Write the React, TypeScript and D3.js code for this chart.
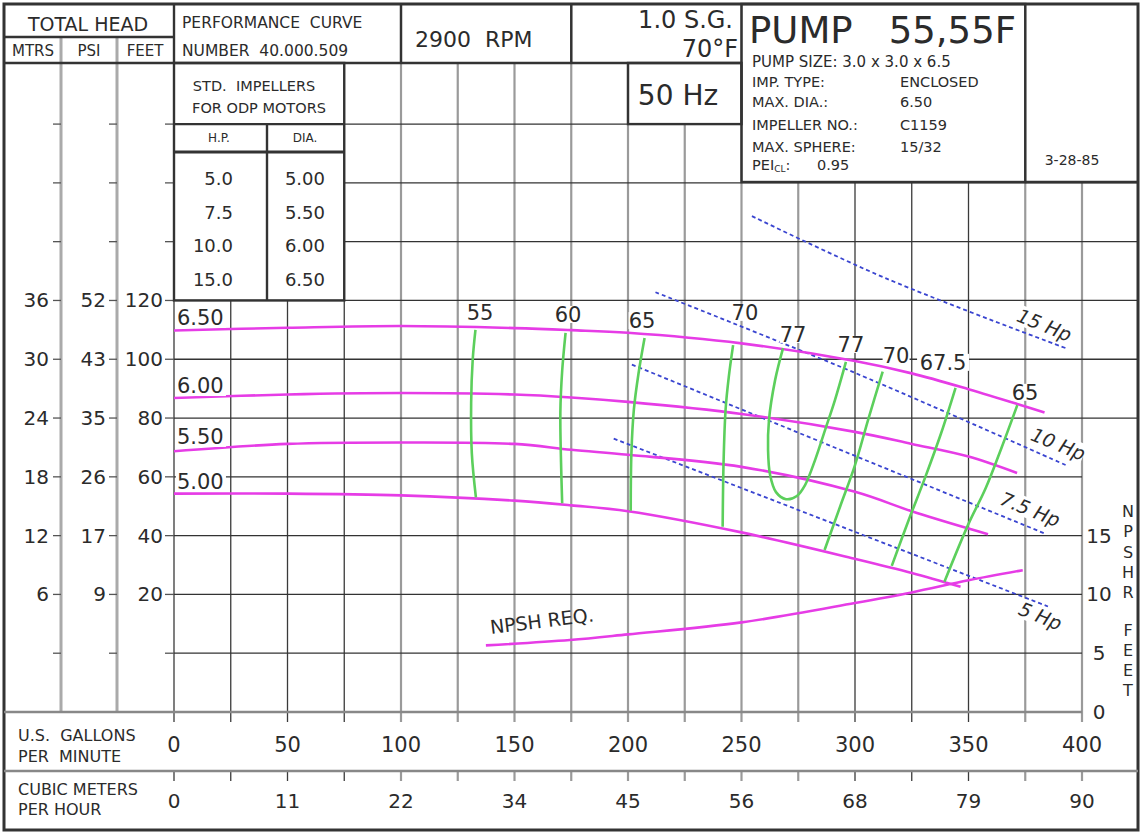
import React from 'react';
import * as d3 from 'd3';

// ---------------- DATA ----------------
const gridGpm = [0, 25, 50, 75, 100, 125, 150, 175, 200, 225, 250, 275, 300, 325, 350, 375, 400];
const gpmTicks = [0, 50, 100, 150, 200, 250, 300, 350, 400];
const cmhLabels = ['0', '11', '22', '34', '45', '56', '68', '79', '90'];
const gridHead = [180, 160, 140, 120, 100, 80, 60, 40, 20, 0];
const feetTicks = [120, 100, 80, 60, 40, 20];
const mtrsLabels = ['36', '30', '24', '18', '12', '6'];
const psiLabels = ['52', '43', '35', '26', '17', '9'];
const unlabeledHead = [180, 160, 140, 0];
const npshTicks = [0, 5, 10, 15];

const stdHp = ['5.0', '7.5', '10.0', '15.0'];
const stdDia = ['5.00', '5.50', '6.00', '6.50'];

// head (ft) vs flow (gpm) for impeller diameters
const dia650: [number, number][] = [[0, 109.8], [50, 110.7], [100, 111.3], [150, 110.6], [175, 109.9], [200, 109], [250, 105.4], [300, 99.4], [325, 95.2], [350, 89.8], [383.5, 81.9]];
const dia600: [number, number][] = [[0, 86.8], [50, 88], [100, 88.5], [150, 88], [175, 87], [200, 85.5], [250, 81.4], [300, 75.3], [325, 71.2], [350, 66.9], [371.4, 61.3]];
const dia550: [number, number][] = [[0, 68.7], [50, 71.2], [100, 71.7], [150, 71.2], [175, 69.2], [200, 67.5], [250, 63.4], [300, 54.9], [325, 48.3], [350, 42.4], [358.6, 40.5]];
const dia500: [number, number][] = [[0, 54.3], [50, 54.3], [100, 53.7], [150, 51.9], [175, 50.3], [200, 48.3], [250, 41.1], [300, 32.1], [325, 27.3], [346.5, 22.6]];
const diaNames = ['6.50', '6.00', '5.50', '5.00'];

// NPSH required (ft) vs flow
const npshReq: [number, number][] = [[137.4, 5.67], [174.4, 6.12], [200, 6.6], [250, 7.62], [300, 9.27], [325, 10.17], [350, 11.2], [373.9, 12.06]];

// efficiency iso-lines (gpm, head ft)
const eff55: [number, number][] = [[132.8, 110], [131.6, 100], [130.9, 85], [131.2, 68], [133, 53]];
const eff60: [number, number][] = [[172.5, 109], [171, 96], [170.2, 82], [170.5, 65], [171, 51]];
const eff65a: [number, number][] = [[207.3, 107.2], [204.6, 95], [202.6, 83], [201.5, 68], [201.2, 48.5]];
const eff70a: [number, number][] = [[246.3, 104.8], [244.4, 94], [243, 83], [242.1, 65], [241.7, 43]];
const eff77: [number, number][] = [[268.3, 103.8], [264.8, 92.9], [262.1, 79.3], [261.7, 69.1], [262.6, 60.6], [265.2, 54.8], [269.6, 52.4], [274.4, 53.5], [278, 57.2], [282.4, 65.7], [286.8, 75.9], [291.2, 86.2], [296, 99.1]];
const eff70b: [number, number][] = [[312.2, 95.8], [306, 80], [300, 64], [293.5, 50], [286.6, 35.1]];
const eff675: [number, number][] = [[344.3, 90.3], [338, 75], [331, 60], [323.5, 45], [316.2, 29.7]];
const eff65b: [number, number][] = [[371.5, 84.4], [364.6, 70], [357.5, 56], [350, 44], [339.4, 24.3]];

const effNames = ['55', '60', '65', '70', '77', '77', '70', '67.5', '65'];
const effLabelAt: [number, number][] = [[134.8, 113.4], [173.6, 112.7], [206.2, 110.6], [251.5, 113.4], [272.7, 105.9], [298.2, 102.5], [318.1, 98.7], [338.8, 96.4], [374.9, 86.2]];

// horsepower lines
const hp15: [number, number][] = [[254.6, 148.7], [313.7, 127.5], [393.8, 103.5]];
const hp10: [number, number][] = [[212.1, 122.8], [300.2, 95.3], [393.1, 63.9]];
const hp75: [number, number][] = [[201.7, 98.2], [384.3, 40.5]];
const hp5: [number, number][] = [[193.7, 73], [385, 15.9]];
const hpNames = ['15 Hp', '10 Hp', '7.5 Hp', '5 Hp'];
const hpLabelAt: [number, number][] = [[383.3, 111.4], [389.4, 70.9], [377.1, 48.7], [381.5, 12.4]];

const diaLabelAt: [number, number][] = [[1.3, 111.7], [1.3, 88.5], [1.3, 71.2], [1.3, 55.9]];

// ---------------- LAYOUT ----------------
const W = 1140;
const H = 834;
const FONT = '"DejaVu Sans", Verdana, sans-serif';
const INK = '#2b2b2b';
const MAGENTA = '#e63ce6';
const GREEN = '#5ccf5c';
const BLUE = '#3a45d0';

const x = d3.scaleLinear().domain([0, 400]).range([174, 1082]);
const y = d3.scaleLinear().domain([-20, 200]).range([712, 65.3]);
const yN = d3.scaleLinear().domain([0, 15]).range([712, y(40)]);

const headLine = d3.line<[number, number]>().x(d => x(d[0])).y(d => y(d[1])).curve(d3.curveCatmullRom.alpha(0.5));
const npshLine = d3.line<[number, number]>().x(d => x(d[0])).y(d => yN(d[1])).curve(d3.curveCatmullRom.alpha(0.5));

const greyVerticals = new Set([100, 125, 150, 175, 200, 225, 250, 275, 375, 400]);

function vTop(q: number): number {
  if (q === 0 || q === 100 || q === 175 || q === 250 || q === 375) return 4;
  if (q === 25 || q === 50) return y(120);
  if (q === 75 || q === 125 || q === 150 || q === 200) return 63;
  if (q === 225) return y(180);
  return 182;
}
function hRange(h: number): [number, number] {
  if (h === 180) return [x(75), x(250)];
  if (h === 160 || h === 140) return [x(75), 1138];
  if (h >= 80) return [x(0), 1138];
  return [x(0), x(400)];
}

function T(props: any) {
  const { children, size = 16, anchor = 'start', style, ...rest } = props;
  return (
    <text fontFamily={FONT} fontSize={size} fill={INK} textAnchor={anchor} style={{ whiteSpace: 'pre', ...(style || {}) }} {...rest}>
      {children}
    </text>
  );
}

export default function App() {
  const effCurves = [eff55, eff60, eff65a, eff70a, eff77, eff70b, eff675, eff65b];
  const diaCurves = [dia650, dia600, dia550, dia500];
  const hpCurves = [hp15, hp10, hp75, hp5];
  const frame = { stroke: '#333', strokeWidth: 2.4, fill: 'none' };
  const colMid = [33, 89, 145];

  return (
    <svg width={W} height={H} viewBox={`0 0 ${W} ${H}`} style={{ position: 'absolute', left: 0, top: 0, display: 'block', background: '#fff' }}>
      <rect x={0} y={0} width={W} height={H} fill="#fff" />

      {/* vertical grid */}
      {gridGpm.map(q => (
        <line key={'v' + q} x1={x(q)} x2={x(q)} y1={vTop(q)} y2={722}
          stroke={greyVerticals.has(q) ? '#9a9a9a' : '#3a3a3a'} strokeWidth={greyVerticals.has(q) ? 2.2 : 1.3} />
      ))}
      {gridGpm.map(q => (
        <line key={'vc' + q} x1={x(q)} x2={x(q)} y1={771} y2={781}
          stroke={greyVerticals.has(q) ? '#9a9a9a' : '#3a3a3a'} strokeWidth={greyVerticals.has(q) ? 2.2 : 1.3} />
      ))}

      {/* horizontal grid */}
      {gridHead.map(h => {
        const [a, b] = hRange(h);
        return <line key={'h' + h} x1={a} x2={b} y1={y(h)} y2={y(h)} stroke="#333" strokeWidth={1.3} />;
      })}

      {/* left scale column separators */}
      <line x1={61} x2={61} y1={37} y2={712} stroke="#aaa" strokeWidth={3} />
      <line x1={117} x2={117} y1={37} y2={712} stroke="#aaa" strokeWidth={3} />

      {/* left tick marks */}
      {[...feetTicks, ...unlabeledHead].map(h => (
        <g key={'t' + h} stroke="#555" strokeWidth={1.3}>
          <line x1={53} x2={61} y1={y(h)} y2={y(h)} />
          <line x1={109} x2={117} y1={y(h)} y2={y(h)} />
          <line x1={165} x2={174} y1={y(h)} y2={y(h)} />
        </g>
      ))}
      {feetTicks.map((h, i) => (
        <g key={'tl' + h}>
          <T x={49} y={y(h) + 7} size={20} anchor="end">{mtrsLabels[i]}</T>
          <T x={106} y={y(h) + 7} size={20} anchor="end">{psiLabels[i]}</T>
          <T x={163} y={y(h) + 7} size={20} anchor="end">{String(h)}</T>
        </g>
      ))}

      {/* frame boxes */}
      <rect x={4} y={4} width={1134} height={826} {...frame} strokeWidth={3} />
      <line x1={4} x2={742} y1={63} y2={63} {...frame} />
      <line x1={4} x2={173} y1={37} y2={37} {...frame} />
      <line x1={x(0)} x2={x(0)} y1={4} y2={63} {...frame} />
      <line x1={x(100)} x2={x(100)} y1={4} y2={63} {...frame} />
      <line x1={x(175)} x2={x(175)} y1={4} y2={63} {...frame} />
      <rect x={x(250)} y={4} width={x(375) - x(250)} height={178} {...frame} />
      <line x1={x(375)} x2={1138} y1={182} y2={182} {...frame} />
      {/* std impellers box */}
      <rect x={x(0)} y={63} width={x(75) - x(0)} height={y(120) - 63} {...frame} />
      <line x1={x(0)} x2={x(75)} y1={y(180)} y2={y(180)} {...frame} />
      <line x1={x(0)} x2={x(75)} y1={152} y2={152} {...frame} strokeWidth={3} />
      <line x1={267} x2={267} y1={y(180)} y2={y(120)} {...frame} />
      {/* 50 Hz box */}
      <rect x={x(200)} y={63} width={x(250) - x(200)} height={y(180) - 63} {...frame} />
      {/* bottom axis band lines */}
      <line x1={4} x2={x(400)} y1={712} y2={712} stroke="#888" strokeWidth={2.4} />
      <line x1={4} x2={1138} y1={771} y2={771} stroke="#888" strokeWidth={2.4} />

      {/* header texts */}
      <T x={88} y={31} size={19} anchor="middle">TOTAL HEAD</T>
      <T x={colMid[0]} y={56} size={15} anchor="middle">MTRS</T>
      <T x={colMid[1]} y={56} size={15} anchor="middle">PSI</T>
      <T x={colMid[2]} y={56} size={15} anchor="middle">FEET</T>
      <T x={182} y={28} size={15.5}>PERFORMANCE  CURVE</T>
      <T x={182} y={56} size={15.5}>NUMBER  40.000.509</T>
      <T x={415} y={47} size={22}>2900  RPM</T>
      <T x={733} y={28} size={24} anchor="end">1.0 S.G.</T>
      <T x={738} y={57} size={24} anchor="end">70°F</T>
      <T x={678} y={105} size={28} anchor="middle">50 Hz</T>
      <T x={749} y={43} size={37}>PUMP</T>
      <T x={1016} y={43} size={37} anchor="end">55,55F</T>
      <T x={752} y={67} size={15}>PUMP SIZE: 3.0 x 3.0 x 6.5</T>
      <T x={752} y={87} size={14.5}>IMP. TYPE:</T>
      <T x={900} y={87} size={14.5}>ENCLOSED</T>
      <T x={752} y={107} size={14.5}>MAX. DIA.:</T>
      <T x={900} y={107} size={14.5}>6.50</T>
      <T x={752} y={130} size={14.5}>IMPELLER NO.:</T>
      <T x={900} y={130} size={14.5}>C1159</T>
      <T x={752} y={152} size={14.5}>MAX. SPHERE:</T>
      <T x={900} y={152} size={14.5}>15/32</T>
      <T x={752} y={170} size={14.5}>PEI<tspan fontSize={9} dy={2}>CL</tspan><tspan dy={-2}>:</tspan></T>
      <T x={817} y={170} size={14.5}>0.95</T>
      <T x={1072} y={165} size={14} anchor="middle">3-28-85</T>

      {/* std impellers table */}
      <T x={254} y={91} size={14.5} anchor="middle">STD.  IMPELLERS</T>
      <T x={259} y={113} size={14.5} anchor="middle">FOR ODP MOTORS</T>
      <T x={219} y={142} size={12} anchor="middle">H.P.</T>
      <T x={305} y={142} size={12} anchor="middle">DIA.</T>
      {stdHp.map((hp, i) => (
        <g key={'std' + i}>
          <T x={233} y={185 + i * 33.5} size={18} anchor="end">{hp}</T>
          <T x={325} y={185 + i * 33.5} size={18} anchor="end">{stdDia[i]}</T>
        </g>
      ))}

      {/* bottom axes */}
      <T x={18} y={741} size={16}>U.S.  GALLONS</T>
      <T x={18} y={762} size={16}>PER  MINUTE</T>
      <T x={18} y={795} size={16}>CUBIC METERS</T>
      <T x={18} y={815} size={16}>PER HOUR</T>
      {gpmTicks.map(q => (
        <T key={'g' + q} x={x(q)} y={752} size={21} anchor="middle">{String(q)}</T>
      ))}
      {cmhLabels.map((c, i) => (
        <T key={'c' + i} x={x(gpmTicks[i])} y={808} size={20} anchor="middle">{c}</T>
      ))}

      {/* NPSH axis */}
      {npshTicks.map(n => (
        <T key={'n' + n} x={1099} y={yN(n) + 7} size={20} anchor="middle">{String(n)}</T>
      ))}
      {'NPSHR'.split('').map((c, i) => (
        <T key={'nl' + i} x={1128} y={517 + i * 20.3} size={16} anchor="middle">{c}</T>
      ))}
      {'FEET'.split('').map((c, i) => (
        <T key={'fl' + i} x={1128} y={636 + i * 20} size={16} anchor="middle">{c}</T>
      ))}

      {/* horsepower lines */}
      {hpCurves.map((c, i) => (
        <path key={'hp' + i} d={headLine(c) || ''} fill="none" stroke={BLUE} strokeWidth={1.8} strokeDasharray="4 3" />
      ))}

      {/* head curves */}
      {diaCurves.map((c, i) => (
        <path key={'dia' + i} d={headLine(c) || ''} fill="none" stroke={MAGENTA} strokeWidth={2.6} />
      ))}
      <path d={npshLine(npshReq) || ''} fill="none" stroke={MAGENTA} strokeWidth={2.6} />

      {/* efficiency curves */}
      {effCurves.map((c, i) => (
        <path key={'eff' + i} d={headLine(c) || ''} fill="none" stroke={GREEN} strokeWidth={2.6} />
      ))}

      {/* diameter labels */}
      {diaNames.map((n, i) => (
        <g key={'dl' + i}>
          <rect x={x(diaLabelAt[i][0]) - 1} y={y(diaLabelAt[i][1]) - 17} width={50} height={20} fill="#fff" />
          <T x={x(diaLabelAt[i][0])} y={y(diaLabelAt[i][1])} size={21}>{n}</T>
        </g>
      ))}

      {/* efficiency labels */}
      {effNames.map((n, i) => {
        const cx = x(effLabelAt[i][0]);
        const by = y(effLabelAt[i][1]);
        const w = n.length * 12.5;
        return (
          <g key={'el' + i}>
            <rect x={cx - w / 2 - 1} y={by - 16} width={w + 2} height={17} fill="#fff" />
            <T x={cx} y={by} size={21} anchor="middle">{n}</T>
          </g>
        );
      })}

      {/* hp labels */}
      {hpNames.map((n, i) => {
        const cx = x(hpLabelAt[i][0]);
        const cy = y(hpLabelAt[i][1]);
        const w = n.length * 11;
        return (
          <g key={'hl' + i} transform={`translate(${cx},${cy}) rotate(22)`}>
            <rect x={-w / 2} y={-11} width={w} height={20} fill="#fff" />
            <T x={0} y={6} size={19} anchor="middle" fontStyle="italic">{n}</T>
          </g>
        );
      })}

      {/* NPSH label */}
      <g transform={`translate(${x(139.6)},${yN(6.63)}) rotate(-7)`}>
        <T x={0} y={0} size={19}>NPSH REQ.</T>
      </g>
    </svg>
  );
}
